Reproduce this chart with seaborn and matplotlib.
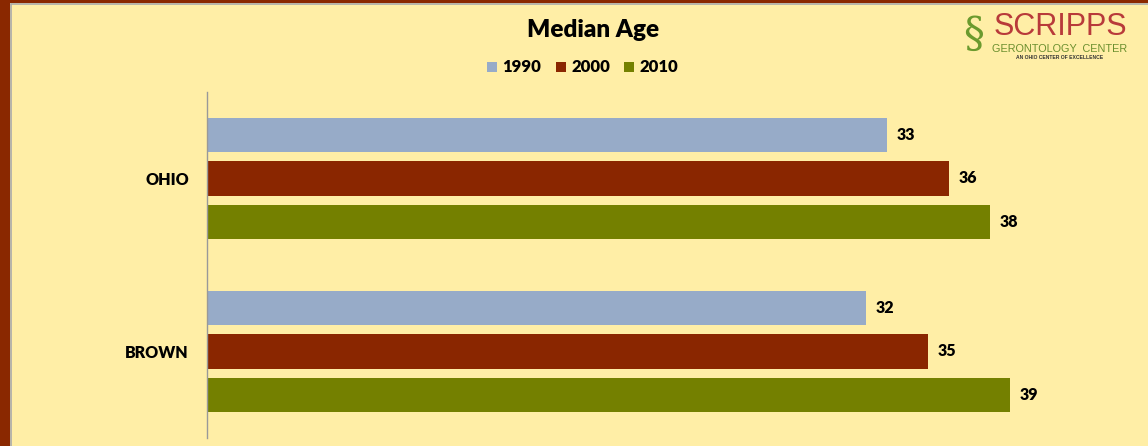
import matplotlib
matplotlib.use("Agg")
import matplotlib.pyplot as plt
import seaborn as sns
import pandas as pd
from matplotlib.patches import Rectangle

regions = ["OHIO", "BROWN"]
years = ["1990", "2000", "2010"]
ohio_vals = [33, 36, 38]
brown_vals = [32, 35, 39]

rows = []
for y, v in zip(years, ohio_vals):
    rows.append({"region": "OHIO", "year": y, "age": v})
for y, v in zip(years, brown_vals):
    rows.append({"region": "BROWN", "year": y, "age": v})
df = pd.DataFrame(rows)

colors = {"1990": "#97ABC8", "2000": "#8A2600", "2010": "#748000"}
bg = "#FFEEA6"
border = "#8A2800"
W8 = "heavy"

sns.set_style("white")
plt.rcParams['font.family'] = ['Lato', 'DejaVu Sans']

W, H = 1148, 446
fig = plt.figure(figsize=(W / 100, H / 100), dpi=100)
fig.patch.set_facecolor(bg)

ax = fig.add_axes([207 / W, (H - 438) / H, (1134 - 207) / W, (438 - 92) / H])
ax.set_facecolor(bg)

sns.barplot(data=df, y="region", x="age", hue="year", order=regions,
            hue_order=years, palette=colors, orient="h", width=0.755,
            gap=0.21, saturation=1, ax=ax, legend=False, linewidth=0,
            edgecolor="none")

ax.set_xlim(0, 45)
ax.set_xticks([])
ax.set_xlabel("")
ax.set_ylabel("")
for s in ["top", "right", "bottom"]:
    ax.spines[s].set_visible(False)
ax.spines["left"].set_color("#999999")
ax.spines["left"].set_linewidth(1.0)
ax.tick_params(axis="y", length=0, pad=13)
for lbl in ax.get_yticklabels():
    lbl.set_fontweight(W8)
    lbl.set_fontsize(11.5)
    lbl.set_color("black")

for cont in ax.containers:
    ax.bar_label(cont, fmt="%d", padding=7, fontsize=11.5, fontweight=W8,
                 color="black")

# Title and legend
fig.text(593 / W, 1 - 30 / H, "Median Age", ha="center", va="center",
         fontsize=17.5, fontweight=W8, color="black")
leg_x = [487, 556, 624]
for x0, yr in zip(leg_x, years):
    fig.patches.append(Rectangle((x0 / W, 1 - 72 / H), 10 / W, 10 / H,
                                 transform=fig.transFigure,
                                 facecolor=colors[yr], edgecolor="none"))
    fig.text((x0 + 15) / W, 1 - 67 / H, yr, ha="left", va="center",
             fontsize=12, fontweight=W8, color="black")

# Borders
fig.patches.append(Rectangle((0, 0), 10 / W, 1, transform=fig.transFigure,
                             facecolor=border, edgecolor="none"))
fig.patches.append(Rectangle((0, 1 - 3 / H), 1, 3 / H, transform=fig.transFigure,
                             facecolor=border, edgecolor="none"))
fig.add_artist(plt.Line2D([11 / W, 11 / W], [0, 1 - 4 / H], color="#AAAAAA",
                          lw=1.2, transform=fig.transFigure))
fig.add_artist(plt.Line2D([11 / W, 1], [1 - 4 / H, 1 - 4 / H], color="#AAAAAA",
                          lw=1.2, transform=fig.transFigure))

# Logo
fig.text(974 / W, 1 - 35 / H, "§", ha="center", va="center", fontsize=30,
         color="#6B9A2E", family=["DejaVu Serif"])
fig.text(1060 / W, 1 - 27 / H, "SCRIPPS", ha="center", va="center",
         fontsize=22, color="#B83A3A",
         family=["Liberation Sans Narrow", "Liberation Sans"])
fig.text(1060 / W, 1 - 49 / H, "GERONTOLOGY  CENTER", ha="center", va="center",
         fontsize=7.8, color="#6B8F2E", family=["Liberation Sans"])
fig.text(1060 / W, 1 - 58 / H, "AN OHIO CENTER OF EXCELLENCE", ha="center",
         va="center", fontsize=3.6, color="#333333", fontweight="bold",
         family=["Liberation Sans"])

fig.savefig("out.png", dpi=100, facecolor=bg)
